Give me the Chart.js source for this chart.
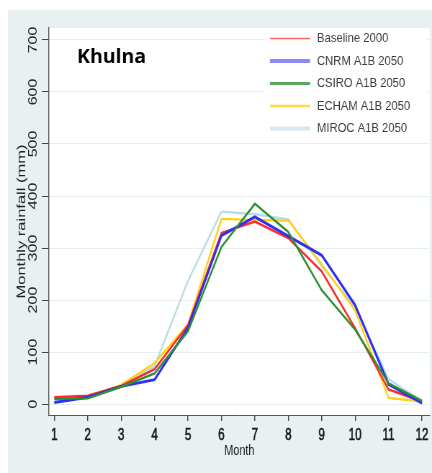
<!DOCTYPE html>
<html><head><meta charset="utf-8">
<script src="https://cdn.jsdelivr.net/npm/chart.js@4"></script>
<style>html,body{margin:0;padding:0;background:#fff;}#wrap{width:432px;height:473px;overflow:hidden;}canvas{display:block;}</style>
</head><body><div id="wrap"><canvas id="c" width="600" height="473" style="width:432px;height:473px"></canvas></div>
<script>
const months = [1,2,3,4,5,6,7,8,9,10,11,12];
const yTicks = [0,100,200,300,400,500,600,700];
const seriesNames = ['Baseline 2000','CNRM A1B 2050','CSIRO A1B 2050','ECHAM A1B 2050','MIROC A1B 2050'];
const baseline = [13,16,35,67,152,329,351,319,255,146,28,5];
const cnrm     = [3,13,34,47,147,324,360,323,286,190,38,2];
const csiro    = [10,11,33,59,140,302,385,331,219,143,40,6];
const echam    = [10,14,37,79,153,356,354,353,269,180,12,5];
const miroc    = [8,12,35,73,237,370,365,355,265,186,48,5];
const stationName = 'Khulna';

// the reference is horizontally condensed: draw on a wider canvas shown at 432px
const K = 0.72;
const X = v => v / K;

const colors = ['#ff2a2a','#2f2ff5','#2e8f34','#ffd21a','#b9dce8'];
const widths = [2.4,2.9,2.4,2.4,2.4];
const legendColors = ['#ff6666','#8a8af7','#5aa85d','#ffd84a','#d3e8ef'];
const legendWidths = [1.5,4,3,2.5,4];
const seriesData = [baseline,cnrm,csiro,echam,miroc];
const drawOrder = [3,2,1,4,5];

const sans = '"Liberation Sans",Arial,sans-serif';

const decor = {
  id:'decor',
  beforeDraw(chart){
    const ctx = chart.ctx, a = chart.chartArea;
    ctx.save();
    ctx.fillStyle = '#ffffff';
    ctx.fillRect(0,0,chart.width,chart.height);
    ctx.fillStyle = '#e9f0f2';
    ctx.fillRect(X(8),10,chart.width-X(8),chart.height-10);
    ctx.fillStyle = '#ffffff';
    ctx.fillRect(a.left,a.top,a.right-a.left,a.bottom-a.top);
    ctx.restore();
  },
  afterDraw(chart){
    const ctx = chart.ctx, a = chart.chartArea, ys = chart.scales.y;
    ctx.save();
    // y tick labels, rotated
    ctx.fillStyle = '#222';
    ctx.font = '16px ' + sans;
    ctx.textAlign = 'center';
    ctx.textBaseline = 'middle';
    ys.ticks.forEach(t => {
      const py = ys.getPixelForValue(t.value);
      ctx.save();
      ctx.translate(X(33.7), py);
      ctx.rotate(-Math.PI/2);
      ctx.fillText(String(t.value),0,0);
      ctx.restore();
    });
    // legend box
    ctx.fillStyle = '#ffffff';
    ctx.fillRect(X(265), a.top, X(427)-X(265), 114);
    chart.data.datasets.forEach((ds,i) => {
      const yy = 38.5 + i*22.5;
      ctx.strokeStyle = legendColors[i];
      ctx.lineWidth = legendWidths[i];
      ctx.beginPath(); ctx.moveTo(X(270),yy); ctx.lineTo(X(310),yy); ctx.stroke();
      ctx.save();
      ctx.translate(X(317),yy);
      ctx.scale(0.9/K,1);
      ctx.fillStyle = '#3d3d3d';
      ctx.font = '12.5px ' + sans;
      ctx.textAlign = 'left';
      ctx.textBaseline = 'middle';
      ctx.fillText(ds.label,0,0.5);
      ctx.restore();
    });
    // station name
    ctx.save();
    ctx.translate(X(77), 63);
    ctx.scale(1/K,1);
    ctx.fillStyle = '#000';
    ctx.font = 'bold 19.5px "Open Sans",sans-serif';
    ctx.textAlign = 'left';
    ctx.textBaseline = 'alphabetic';
    ctx.fillText(stationName, 0, 0);
    ctx.restore();
    ctx.restore();
  }
};

new Chart(document.getElementById('c'), {
  type:'line',
  data:{
    datasets: seriesNames.map((name,i) => ({
      label:name,
      data: months.map((m,j) => ({x:m, y:seriesData[i][j]})),
      borderColor: colors[i],
      backgroundColor: colors[i],
      borderWidth: widths[i],
      pointRadius:0,
      tension:0,
      fill:false,
      order: drawOrder[i]
    }))
  },
  options:{
    responsive:false,
    animation:false,
    devicePixelRatio:1,
    layout:{padding:{top:28,left:11,right:0,bottom:0}},
    plugins:{legend:{display:false},tooltip:{enabled:false}},
    scales:{
      x:{
        type:'linear', min:0.842, max:12.23,
        afterBuildTicks: s => { s.ticks = months.map(v => ({value:v})); },
        afterFit: s => { s.height = 58; },
        grid:{drawOnChartArea:false, tickLength:6, color:'#444', lineWidth:1.4},
        border:{color:'#555', width:1},
        ticks:{font:{family:sans,size:16}, color:'#1a1a1a', textStrokeColor:'#1a1a1a', textStrokeWidth:0.6, padding:5, autoSkip:false, maxRotation:0, minRotation:0},
        title:{display:true, text:'Month', color:'#1a1a1a', font:{family:sans,size:15}, padding:{top:0,bottom:13}}
      },
      y:{
        type:'linear', min:-21, max:723,
        afterBuildTicks: s => { s.ticks = yTicks.map(v => ({value:v})); },
        afterFit: s => { s.width = X(49) - 11; },
        grid:{color:'#e6eef0', tickColor:'#444', tickLength:10, lineWidth:1},
        border:{color:'#555', width:1.4},
        ticks:{display:false},
        title:{display:true, text:'Monthly rainfall (mm)', color:'#222', font:{family:sans,size:16.5}, padding:{top:9.5,bottom:0}}
      }
    }
  },
  plugins:[decor]
});
</script></body></html>
